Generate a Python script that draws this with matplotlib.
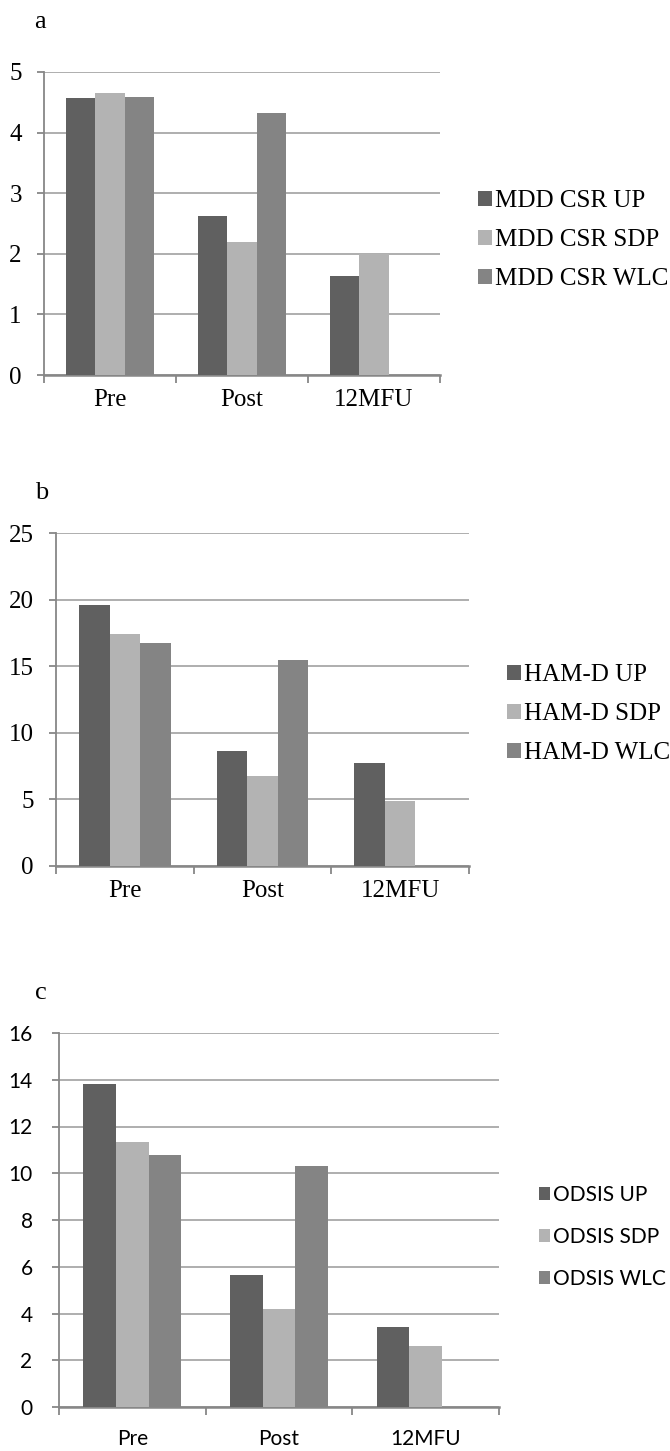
import numpy as np
import matplotlib
matplotlib.use("Agg")
import matplotlib.pyplot as plt

W, H = 670, 1451

categories = ["Pre", "Post", "12MFU"]

mdd_labels = ["MDD CSR UP", "MDD CSR SDP", "MDD CSR WLC"]
mdd_up = [4.57, 2.63, 1.63]
mdd_sdp = [4.66, 2.19, 2.0]
mdd_wlc = [4.59, 4.32, 0]

hamd_labels = ["HAM-D UP", "HAM-D SDP", "HAM-D WLC"]
hamd_up = [19.58, 8.6, 7.75]
hamd_sdp = [17.38, 6.75, 4.9]
hamd_wlc = [16.73, 15.5, 0]

odsis_labels = ["ODSIS UP", "ODSIS SDP", "ODSIS WLC"]
odsis_up = [13.83, 5.66, 3.41]
odsis_sdp = [11.33, 4.2, 2.61]
odsis_wlc = [10.79, 10.33, 0]

colors = ["#606060", "#b3b3b3", "#848484"]
grid_color = "#a8a8a8"
axis_color = "#878787"

SERIF = ["Liberation Serif", "DejaVu Serif"]
SANS = ["Lato", "DejaVu Sans"]


def px_axes(fig, left, right, top, bottom):
    return fig.add_axes([left / W, 1 - bottom / H, (right - left) / W, (bottom - top) / H])


def bar_panel(fig, box, series, labels, ymax, ystep, letter, letter_xy,
              legend_xy, font, fsize, ypad, xpad, labelspacing):
    ax = px_axes(fig, *box)
    x = np.arange(len(categories))
    w = 0.222
    for i, (vals, lab) in enumerate(zip(series, labels)):
        ax.bar(x + (i - 1) * w, vals, w, color=colors[i], label=lab, zorder=3)
    ax.set_xlim(-0.5, len(categories) - 0.5)
    ax.set_ylim(0, ymax)
    ax.set_yticks(np.arange(0, ymax + ystep / 2, ystep))
    ax.yaxis.grid(True, color=grid_color, linewidth=1.3, zorder=0)
    ax.set_axisbelow(True)
    for s in ["top", "right"]:
        ax.spines[s].set_visible(False)
    ax.spines["left"].set_color(axis_color)
    ax.spines["bottom"].set_color(axis_color)
    ax.spines["left"].set_linewidth(1.3)
    ax.spines["bottom"].set_linewidth(1.8)
    ax.set_xticks(np.arange(-0.5, len(categories), 1.0))
    ax.set_xticklabels([])
    ax.set_xticks(x, minor=True)
    ax.set_xticklabels(categories, minor=True)
    ax.tick_params(axis="x", which="major", length=6, width=1.3, color=axis_color)
    ax.tick_params(axis="x", which="minor", length=0, pad=xpad)
    ax.tick_params(axis="y", length=5, width=1.3, color=axis_color, pad=ypad)
    for t in ax.get_xticklabels(minor=True) + ax.get_yticklabels():
        t.set_fontfamily(font)
        t.set_fontsize(fsize)
    fig.text(letter_xy[0] / W, 1 - letter_xy[1] / H, letter, family=SERIF,
             fontsize=19, ha="left", va="center")
    ax.legend(loc="center left", bbox_to_anchor=(legend_xy[0] / W, 1 - legend_xy[1] / H),
              bbox_transform=fig.transFigure, frameon=False, prop={"family": font, "size": fsize},
              handlelength=0.55, handleheight=0.55, handletextpad=0.12,
              labelspacing=labelspacing, borderpad=0, borderaxespad=0)
    return ax


fig = plt.figure(figsize=(W / 100, H / 100), dpi=100)

bar_panel(fig, (44, 440, 72, 375), [mdd_up, mdd_sdp, mdd_wlc], mdd_labels,
          5, 1, "a", (34, 22), (478, 240), SERIF, 18, 11, 10, 0.68)
bar_panel(fig, (56, 469, 533, 866), [hamd_up, hamd_sdp, hamd_wlc], hamd_labels,
          25, 5, "b", (35, 493), (507, 714), SERIF, 18, 11, 10, 0.68)
bar_panel(fig, (59, 499, 1033, 1407), [odsis_up, odsis_sdp, odsis_wlc], odsis_labels,
          16, 2, "c", (35, 993), (539, 1237), SANS, 15, 14, 16, 1.05)

fig.savefig("out.png", dpi=100)
